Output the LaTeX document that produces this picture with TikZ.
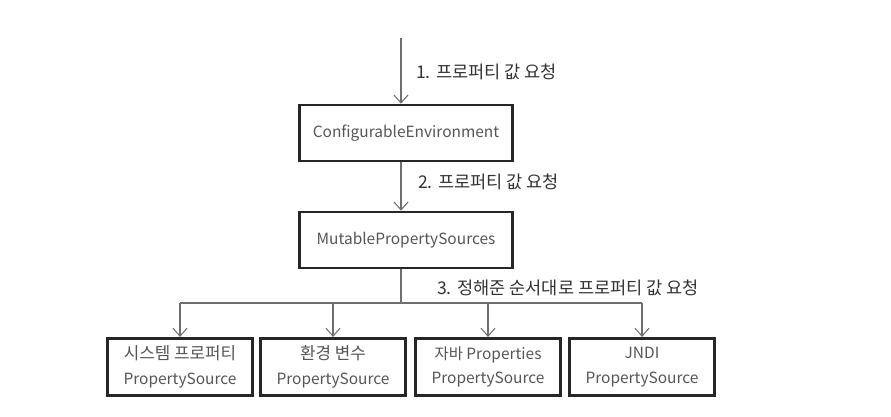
\documentclass[tikz,border=0pt]{standalone}
\usepackage{fontspec}
\setmainfont{Noto Sans CJK KR}
\usepackage{tikz}
\usetikzlibrary{positioning,calc,arrows.meta}
\definecolor{linegray}{RGB}{110,110,110}
\definecolor{textgray}{RGB}{85,85,85}
\tikzset{
    srcbox/.style={draw=black!85, line width=1.5pt, minimum width=2.9cm, minimum height=1.15cm,
        align=center, text=textgray, font=\fontsize{8.8}{14}\selectfont},
    mainbox/.style={srcbox, minimum width=4.26cm, minimum height=1.12cm},
    flow/.style={draw=linegray, line width=0.6pt, -{Straight Barb[length=4.5pt,width=8pt]}},
    steplabel/.style={right, text=black!80, font=\fontsize{10}{12}\selectfont}
}

\begin{document}
\begin{tikzpicture}[x=0.02cm, y=-0.02cm]
    \useasboundingbox (0,0) rectangle (891,416);

    % Main boxes
    \node[mainbox] (env) at (406,133) {ConfigurableEnvironment};
    \node[mainbox] (mut) at (406,240) {MutablePropertySources};

    % Property sources
    \node[srcbox] (sys)  at (180,367) {{\fontsize{9.6}{14}\selectfont 시스템 프로퍼티}\\PropertySource};
    \node[srcbox] (envv) at (333,367) {{\fontsize{9.6}{14}\selectfont 환경 변수}\\PropertySource};
    \node[srcbox] (java) at (488,367) {자바 Properties\\PropertySource};
    \node[srcbox] (jndi) at (642,367) {JNDI\\PropertySource};

    % Connectors
    \coordinate (top) at (401,38);
    \coordinate (split) at (401,303);
    \draw[flow] (top) -- (top |- env.north);
    \draw[flow] (env.south -| top) -- (mut.north -| top);
    \draw[draw=linegray, line width=0.6pt] (mut.south -| split) -- (split);
    \draw[draw=linegray, line width=0.6pt] (sys.north |- split) -- (jndi.north |- split);
    \foreach \b in {sys, envv, java, jndi}
        \draw[flow] (\b.north |- split) -- (\b.north);

    % Step labels
    \node[steplabel] (req1) at (410,72) {1. 프로퍼티 값 요청};
    \node[steplabel] (req2) at (412,182) {2. 프로퍼티 값 요청};
    \node[steplabel] (req3) at (431,288) {3. 정해준 순서대로 프로퍼티 값 요청};
\end{tikzpicture}
\end{document}
